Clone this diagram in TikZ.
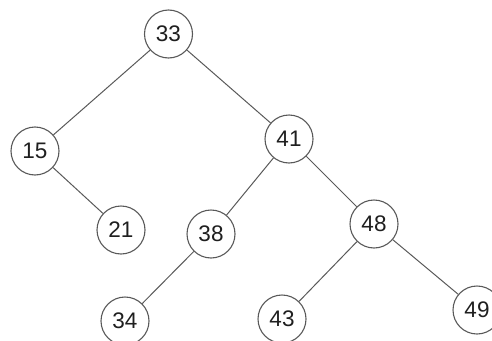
\documentclass[tikz,border=0pt]{standalone}
\usepackage{fontspec}
\setmainfont{Liberation Sans}
\begin{document}
\begin{tikzpicture}[x=1pt,y=-1pt,
  tn/.style={circle,draw=black!65,line width=1.1pt,fill=white,minimum size=48pt,inner sep=0pt,
    font=\fontsize{22.5}{24}\selectfont,text=black!88},
  ed/.style={draw=black!65,line width=1pt}]
\useasboundingbox (0,0) rectangle (492,340);
\node[tn] (n33) at (168.5,34) {33};
\node[tn] (n15) at (35,151) {15};
\node[tn] (n41) at (289,139) {41};
\node[tn] (n21) at (121,230) {21};
\node[tn] (n38) at (211,234) {38};
\node[tn] (n48) at (374,224) {48};
\node[tn] (n34) at (125,321) {34};
\node[tn] (n43) at (282,319) {43};
\node[tn] (n49) at (477,310) {49};
\draw[ed] (n33) -- (n15);
\draw[ed] (n33) -- (n41);
\draw[ed] (n15) -- (n21);
\draw[ed] (n41) -- (n38);
\draw[ed] (n41) -- (n48);
\draw[ed] (n38) -- (n34);
\draw[ed] (n48) -- (n43);
\draw[ed] (n48) -- (n49);
\end{tikzpicture}
\end{document}
